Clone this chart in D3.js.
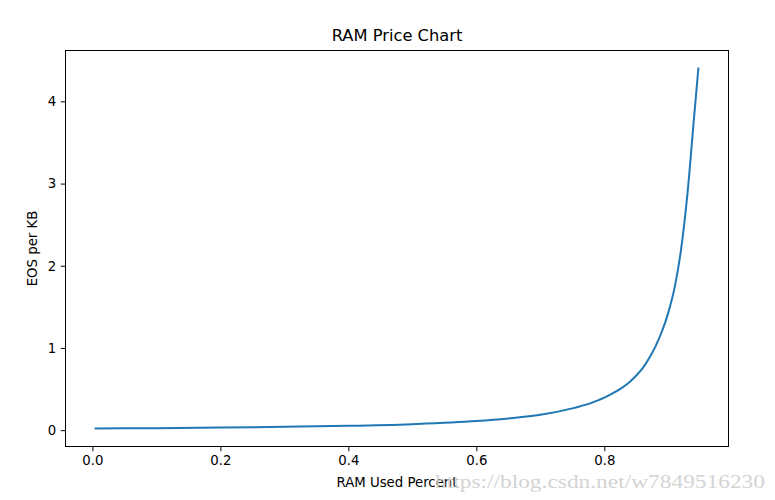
<!DOCTYPE html>
<html>
<head>
<meta charset="utf-8">
<script src="https://cdn.jsdelivr.net/npm/d3@7"></script>
<style>
  html, body { margin: 0; padding: 0; background: #fff; }
  svg { display: block; }
  text { font-family: "DejaVu Sans", sans-serif; }
</style>
</head>
<body>
<svg id="chart" width="775" height="500"></svg>
<script>
// Values
const usedPercent = [0.005, 0.1, 0.2, 0.3, 0.4, 0.5, 0.6, 0.65, 0.7, 0.75,
  0.76, 0.77, 0.78, 0.79, 0.80, 0.81, 0.82, 0.83, 0.84, 0.85, 0.86, 0.87, 0.88, 0.89,
  0.90, 0.91, 0.92, 0.93, 0.94, 0.947];
const eosPerKB = [0.020, 0.024, 0.031, 0.040, 0.052, 0.073, 0.110, 0.142, 0.186, 0.265,
  0.285, 0.307, 0.332, 0.362, 0.396, 0.435, 0.478, 0.528, 0.59, 0.665, 0.755, 0.875, 1.02, 1.20,
  1.43, 1.74, 2.20, 2.88, 3.78, 4.40];
const xTicks = [0.0, 0.2, 0.4, 0.6, 0.8];
const yTicks = [0, 1, 2, 3, 4];
const titleText = "RAM Price Chart";
const xLabel = "RAM Used Percent";
const yLabel = "EOS per KB";
const watermark = "https://blog.csdn.net/w7849516230";

const svg = d3.select("#chart");
const plot = { left: 65.5, right: 728.5, top: 50.5, bottom: 446.5 };

const data = usedPercent.map((x, i) => ({ x, y: eosPerKB[i] }));

function padded(ext) {
  const r = ext[1] - ext[0];
  return [ext[0] - 0.05 * r, ext[1] + 0.05 * r];
}

const x = d3.scaleLinear().domain(padded(d3.extent(usedPercent))).range([plot.left, plot.right]);
const y = d3.scaleLinear().domain(padded(d3.extent(eosPerKB))).range([plot.bottom, plot.top]);

// line
svg.append("path")
  .datum(data)
  .attr("fill", "none")
  .attr("stroke", "#1f77b4")
  .attr("stroke-width", 2)
  .attr("stroke-linecap", "square")
  .attr("d", d3.line().x(d => x(d.x)).y(d => y(d.y)).curve(d3.curveMonotoneX));

// axes
const xAxis = svg.append("g")
  .attr("transform", `translate(0,${plot.bottom})`)
  .call(d3.axisBottom(x).tickValues(xTicks).tickFormat(d3.format(".1f")).tickSize(4.7).tickPadding(4.5));
const yAxis = svg.append("g")
  .attr("transform", `translate(${plot.left},0)`)
  .call(d3.axisLeft(y).tickValues(yTicks).tickFormat(d3.format("d")).tickSize(4.7).tickPadding(4.5));

[xAxis, yAxis].forEach(g => {
  g.select(".domain").remove();
  g.selectAll(".tick line").attr("stroke", "#000").attr("stroke-width", 1);
  g.selectAll(".tick text").attr("fill", "#000").style("font-size", "13.3px").style("font-family", "DejaVu Sans");
});

// frame
svg.append("rect")
  .attr("x", plot.left).attr("y", plot.top)
  .attr("width", plot.right - plot.left).attr("height", plot.bottom - plot.top)
  .attr("fill", "none").attr("stroke", "#000").attr("stroke-width", 1);

// title
svg.append("text")
  .attr("x", (plot.left + plot.right) / 2).attr("y", 41)
  .attr("text-anchor", "middle")
  .style("font-size", "16.3px")
  .text(titleText);

// x label
svg.append("text")
  .attr("x", (plot.left + plot.right) / 2).attr("y", 487)
  .attr("text-anchor", "middle")
  .style("font-size", "13.3px")
  .text(xLabel);

// y label
svg.append("text")
  .attr("transform", `translate(37,${(plot.top + plot.bottom) / 2}) rotate(-90)`)
  .attr("text-anchor", "middle")
  .style("font-size", "13.3px")
  .text(yLabel);

// watermark (overlaps the x label in the reference too)
svg.append("text")
  .attr("x", 435).attr("y", 488)
  .attr("textLength", 330)
  .attr("lengthAdjust", "spacingAndGlyphs")
  .style("font-family", "Liberation Serif, serif")
  .style("font-size", "18px")
  .attr("fill", "#cfcfcf")
  .attr("opacity", 0.9)
  .text(watermark);
</script>
</body>
</html>
